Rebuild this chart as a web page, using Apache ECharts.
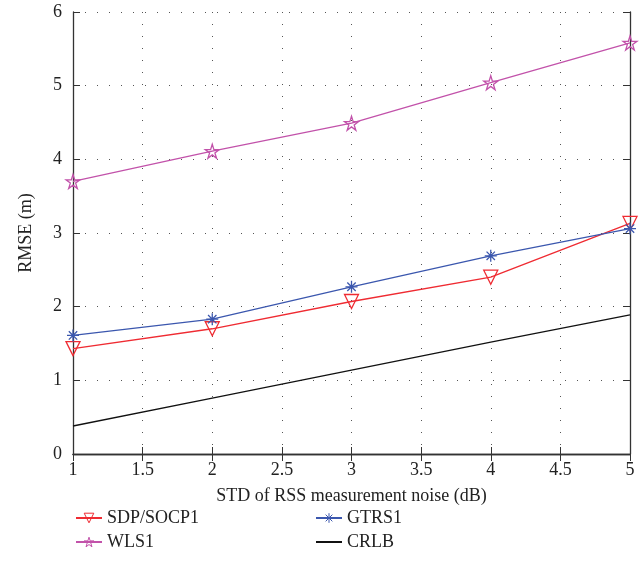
<!DOCTYPE html>
<html>
<head>
<meta charset="utf-8">
<script src="https://cdn.jsdelivr.net/npm/echarts@6/dist/echarts.min.js"></script>
<style>
  html, body { margin: 0; padding: 0; background: #fff; }
  #chart { width: 642px; height: 584px; }
</style>
</head>
<body>
<div id="chart"></div>
<script>
// noise std (dB)
var noiseStd = [1, 2, 3, 4, 5]
var sdpSocp1 = [1.43, 1.70, 2.07, 2.40, 3.13]
var wls1 = [3.70, 4.11, 4.49, 5.04, 5.58]
var gtrs1 = [1.61, 1.83, 2.27, 2.69, 3.06]
var crlb = [0.38, 0.76, 1.14, 1.52, 1.89]

var fontFamily = '"Liberation Serif", "DejaVu Serif", serif'
var starPath = 'path://M0,-1L0.2245,-0.309L0.951,-0.309L0.363,0.118L0.588,0.809L0,0.382L-0.588,0.809L-0.363,0.118L-0.951,-0.309L-0.2245,-0.309Z'
var asteriskPath = 'path://M0,-1L0,1M-1,0L1,0M-0.7,-0.7L0.7,0.7M-0.7,0.7L0.7,-0.7'

function pairs(ys) {
  return noiseStd.map(function (x, i) { return [x, ys[i]] })
}

function makeSeries(name, data, color, symbol, size, rotate) {
  var noMark = symbol === 'none'
  return {
    name: name,
    type: 'line',
    data: pairs(data),
    symbol: noMark ? 'circle' : symbol,
    symbolSize: size,
    symbolRotate: rotate || 0,
    showSymbol: !noMark,
    lineStyle: { color: color, width: 1.3 },
    itemStyle: {
      color: 'rgba(255,255,255,0)',
      borderColor: noMark ? 'rgba(0,0,0,0)' : color,
      borderWidth: noMark ? 0 : 1.3
    },
    emphasis: { disabled: true },
    animation: false
  }
}

var legendText = { fontFamily: fontFamily, fontSize: 18, color: '#222' }

var chart = echarts.init(document.getElementById('chart'))
var option = {
  backgroundColor: '#fff',
  textStyle: { fontFamily: fontFamily },
  grid: { left: 73, right: 12, top: 12, bottom: 130 },
  legend: [
    {
      orient: 'vertical',
      left: 70,
      top: 504,
      itemWidth: 26,
      itemHeight: 12,
      itemGap: 6,
      itemStyle: { color: 'rgba(255,255,255,0)', borderWidth: 1 },
      textStyle: legendText,
      data: ['SDP/SOCP1', 'WLS1']
    },
    {
      orient: 'vertical',
      left: 310,
      top: 504,
      itemWidth: 26,
      itemHeight: 12,
      itemGap: 6,
      itemStyle: { color: 'rgba(255,255,255,0)', borderWidth: 1 },
      textStyle: legendText,
      data: ['GTRS1', 'CRLB']
    }
  ],
  xAxis: [
    {
      type: 'value',
      min: 1,
      max: 5,
      interval: 0.5,
      name: 'STD of RSS measurement noise (dB)',
      nameLocation: 'middle',
      nameGap: 33,
      nameTextStyle: { fontSize: 18, color: '#222' },
      axisLine: { show: true, lineStyle: { color: '#333', width: 1.3 } },
      axisTick: { show: true, inside: true, length: 7, lineStyle: { color: '#333' } },
      axisLabel: { fontSize: 18, color: '#222', margin: 7 },
      splitLine: { show: true, lineStyle: { color: '#555', type: [1, 11], width: 1 } }
    },
    {
      type: 'value',
      position: 'top',
      min: 1,
      max: 5,
      interval: 0.5,
      axisLine: { show: true, lineStyle: { color: '#333', width: 1.3 } },
      axisTick: { show: true, inside: true, length: 7, lineStyle: { color: '#333' } },
      axisLabel: { show: false },
      splitLine: { show: false }
    }
  ],
  yAxis: [
    {
      type: 'value',
      min: 0,
      max: 6,
      interval: 1,
      name: 'RMSE (m)',
      nameLocation: 'middle',
      nameGap: 38,
      nameTextStyle: { fontSize: 18, color: '#222' },
      axisLine: { show: true, lineStyle: { color: '#333', width: 1.3 } },
      axisTick: { show: true, inside: true, length: 7, lineStyle: { color: '#333' } },
      axisLabel: { fontSize: 18, color: '#222', margin: 11 },
      splitLine: { show: true, lineStyle: { color: '#555', type: [1, 11], width: 1 } }
    },
    {
      type: 'value',
      position: 'right',
      min: 0,
      max: 6,
      interval: 1,
      axisLine: { show: true, lineStyle: { color: '#333', width: 1.3 } },
      axisTick: { show: true, inside: true, length: 7, lineStyle: { color: '#333' } },
      axisLabel: { show: false },
      splitLine: { show: false }
    }
  ],
  series: [
    makeSeries('SDP/SOCP1', sdpSocp1, '#ef2b32', 'triangle', 14, 180),
    makeSeries('WLS1', wls1, '#c252aa', starPath, 14),
    makeSeries('GTRS1', gtrs1, '#3b57ae', asteriskPath, 12),
    makeSeries('CRLB', crlb, '#111', 'none', 0)
  ]
}
chart.setOption(option)
</script>
</body>
</html>
